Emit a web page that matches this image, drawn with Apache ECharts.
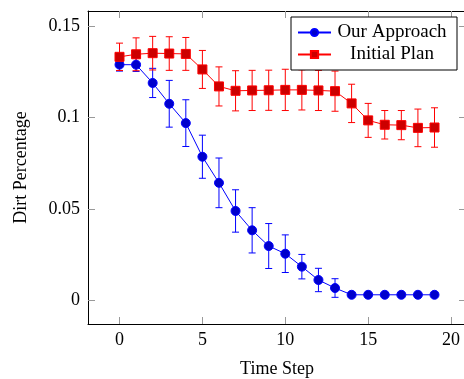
<!DOCTYPE html>
<html>
<head>
<meta charset="utf-8">
<script src="https://cdn.jsdelivr.net/npm/echarts@6/dist/echarts.min.js"></script>
<style>html,body{margin:0;padding:0;background:#fff}#c{width:464px;height:379px}</style>
</head>
<body>
<div id="c"></div>
<script>
var timeSteps = [0,1,2,3,4,5,6,7,8,9,10,11,12,13,14,15,16,17,18,19];
var oursMean = [0.129,0.129,0.119,0.1076,0.097,0.0786,0.0643,0.0489,0.0383,0.0297,0.0255,0.0184,0.0111,0.0067,0.003,0.003,0.003,0.003,0.003,0.003];
var oursErr  = [0.0035,0.0037,0.008,0.0128,0.0128,0.0118,0.0136,0.0116,0.0124,0.0123,0.0103,0.0067,0.0064,0.0051,0.0005,0.0005,0.0005,0.0005,0.0005,0.0005];
var planMean = [0.1333,0.1347,0.1353,0.1351,0.1349,0.1264,0.1171,0.1147,0.1149,0.115,0.1152,0.1152,0.1149,0.1145,0.1078,0.0985,0.0961,0.0959,0.0944,0.0946];
var planErr  = [0.0075,0.009,0.0092,0.0092,0.009,0.0104,0.0107,0.011,0.011,0.011,0.0113,0.011,0.011,0.011,0.0105,0.0093,0.0078,0.008,0.0103,0.0108];
var xTicks = [0,5,10,15,20];
var yTicks = [0,0.05,0.1,0.15];
var yTickLabels = ['0','0.05','0.1','0.15'];
var seriesNames = ['Our Approach','Initial Plan'];

var FONT = "'Liberation Serif','DejaVu Serif',serif";
function pairs(m){ return timeSteps.map(function(t,i){return [t,m[i]];}); }
function errData(m,e){ return timeSteps.map(function(t,i){return [t,m[i],e[i]];}); }
function errRender(color){
  return function(params, api){
    var x = api.value(0), y = api.value(1), e = api.value(2);
    var top = api.coord([x, y+e]), bot = api.coord([x, y-e]);
    var c = 3.5;
    var st = {stroke: color, lineWidth: 1};
    return {type:'group', children:[
      {type:'line', shape:{x1:top[0],y1:top[1],x2:bot[0],y2:bot[1]}, style:st},
      {type:'line', shape:{x1:top[0]-c,y1:top[1],x2:top[0]+c,y2:top[1]}, style:st},
      {type:'line', shape:{x1:bot[0]-c,y1:bot[1],x2:bot[0]+c,y2:bot[1]}, style:st}
    ]};
  };
}
var tickStyle = {show:true, inside:true, length:7, lineStyle:{color:'#999', width:1}};
var lineAx = {show:true, onZero:false, lineStyle:{color:'#000', width:1}};
var chart = echarts.init(document.getElementById('c'), null, {renderer:'canvas'});
chart.setOption({
  animation:false,
  grid:{left:88, top:11, width:378, height:313, containLabel:false, outerBoundsMode:'none'},
  legend:{
    data:seriesNames, orient:'vertical', left:291, top:17,
    padding:[6,9,6,6], itemGap:3, itemWidth:33, itemHeight:9,
    backgroundColor:'#fff', borderColor:'#000', borderWidth:1, borderRadius:0,
    formatter: function(n){ return '{a|'+n+'}'; },
    textStyle:{fontFamily:FONT, fontSize:19, color:'#000',
      rich:{a:{fontFamily:FONT, fontSize:19, width:112, align:'center', lineHeight:21}}}
  },
  xAxis:[{
    type:'value', min:-1.9, max:20.9, position:'bottom',
    name:'Time Step', nameLocation:'middle', nameGap:36,
    nameTextStyle:{fontFamily:FONT, fontSize:18, color:'#000'},
    axisLine:lineAx, splitLine:{show:false},
    axisTick:Object.assign({customValues:xTicks}, tickStyle),
    axisLabel:{customValues:xTicks, fontFamily:FONT, fontSize:18, color:'#000', margin:7}
  },{
    type:'value', min:-1.9, max:20.9, position:'top',
    axisLine:lineAx, splitLine:{show:false},
    axisTick:Object.assign({customValues:xTicks}, tickStyle),
    axisLabel:{show:false}
  }],
  yAxis:[{
    type:'value', min:-0.013, max:0.1584, position:'left',
    name:'Dirt Percentage', nameLocation:'middle', nameGap:58,
    nameTextStyle:{fontFamily:FONT, fontSize:18, color:'#000'},
    axisLine:lineAx, splitLine:{show:false},
    axisTick:Object.assign({customValues:yTicks}, tickStyle),
    axisLabel:{customValues:yTicks, fontFamily:FONT, fontSize:18, color:'#000', margin:8,
      formatter:function(v){ var i = yTicks.findIndex(function(t){return Math.abs(t-v)<1e-9;}); return i>=0?yTickLabels[i]:''; }}
  },{
    type:'value', min:-0.013, max:0.1584, position:'right',
    axisLine:lineAx, splitLine:{show:false},
    axisTick:Object.assign({customValues:yTicks}, tickStyle),
    axisLabel:{show:false}
  }],
  series:[
    {type:'custom', name:'errOurs', renderItem:errRender('#0000ff'), data:errData(oursMean,oursErr), encode:{x:0,y:1}, z:1, silent:true},
    {type:'custom', name:'errPlan', renderItem:errRender('#ff0000'), data:errData(planMean,planErr), encode:{x:0,y:1}, z:1, silent:true},
    {type:'line', name:seriesNames[0], data:pairs(oursMean), symbol:'circle', symbolSize:9,
      lineStyle:{color:'#0000ff', width:1}, itemStyle:{color:'#0000cc', borderColor:'#0000ff', borderWidth:1}, z:3},
    {type:'line', name:seriesNames[1], data:pairs(planMean), symbol:'rect', symbolSize:9,
      lineStyle:{color:'#ff0000', width:1}, itemStyle:{color:'#cc0000', borderColor:'#ff0000', borderWidth:1}, z:3}
  ]
});
</script>
</body>
</html>
